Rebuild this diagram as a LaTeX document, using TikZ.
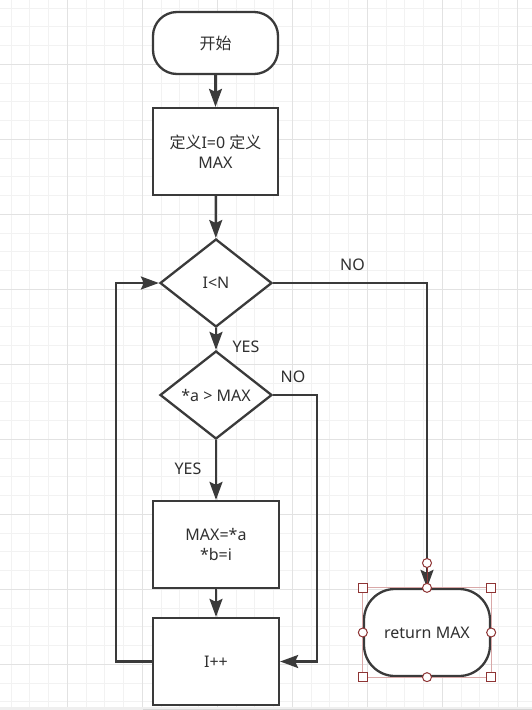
\documentclass[tikz,border=0pt]{standalone}
\usepackage{fontspec}
\setmainfont{Noto Sans}
\newfontfamily\cjk{Noto Sans CJK SC}
\usetikzlibrary{shapes.geometric,arrows.meta}
\definecolor{linec}{HTML}{3A3A3A}
\definecolor{textc}{HTML}{303030}
\definecolor{gridminor}{HTML}{F2F2F2}
\definecolor{gridmajor}{HTML}{E2E2E2}
\definecolor{handle}{HTML}{8E3434}
\definecolor{selbox}{HTML}{D9A8A8}
\definecolor{bandlight}{HTML}{EFEFEF}
\definecolor{banddark}{HTML}{D6D6D6}
\tikzset{
  every node/.style={font=\fontsize{16}{20}\selectfont, text=textc},
  box/.style={draw=linec, line width=2.3pt, fill=white, rectangle, minimum width=125pt, minimum height=87pt, align=center, inner sep=0pt},
  term/.style={box, rounded corners=26pt},
  dec/.style={draw=linec, line width=2.3pt, fill=white, diamond, minimum width=112pt, minimum height=88pt, inner sep=0pt, align=center},
  conn/.style={draw=linec, line width=2.3pt, -{Stealth[length=18pt,width=13pt,inset=3pt]}},
  lbl/.style={inner sep=0pt},
  hsq/.style={draw=handle, fill=white, line width=1pt, minimum size=9pt, inner sep=0pt, rectangle},
  hci/.style={draw=handle, fill=white, line width=1pt, minimum size=9pt, inner sep=0pt, circle},
}
\begin{document}
\begin{tikzpicture}[x=1pt,y=-1pt]
\useasboundingbox (0,0) rectangle (532,710);
\fill[white] (0,0) rectangle (532,710);
% grid
\foreach \k in {0,...,27} { \draw[gridminor, line width=1pt] ({11.1+18.75*\k},0) -- ({11.1+18.75*\k},707); }
\foreach \k in {0,...,37} { \draw[gridminor, line width=1pt] (0,{8.1+18.75*\k}) -- (532,{8.1+18.75*\k}); }
\foreach \k in {0,...,6} { \draw[gridmajor, line width=1pt] ({67.3+75*\k},0) -- ({67.3+75*\k},707); }
\foreach \k in {0,...,8} { \draw[gridmajor, line width=1pt] (0,{64.3+75*\k}) -- (532,{64.3+75*\k}); }
\fill[bandlight] (0,707) rectangle (532,710);
\fill[banddark] (143,708.5) rectangle (532,710);

% nodes
\node[term, minimum height=62pt, rounded corners=24pt] (start) at (215.5,43) {{\cjk 开始}};
\node[box] (def) at (215.5,151.5) {{\cjk 定义}I=0 {\cjk 定义}\\MAX};
\node[dec] (d1) at (216,283) {I<N};
\node[dec] (d2) at (216,395) {*a > MAX};
\node[box, minimum width=126pt] (set) at (216,544.5) {MAX=*a\\*b=i};
\node[box, minimum width=126pt] (inc) at (216,661.5) {I++};
\node[term, minimum width=126pt, rounded corners=31pt] (ret) at (427,632.5) {return MAX};

% connectors
\draw[conn] (start) -- (def);
\draw[conn] (def) -- (d1);
\draw[conn] (d1) -- (d2);
\draw[conn] (d2) -- (set);
\draw[conn] (set) -- (inc);
\coordinate (lp) at (116,661.5);
\draw[conn] (inc.west) -- (lp) |- (d1.west);
\draw[conn] (d1.east) -| (ret.north);
\coordinate (c2) at (317,661.5);
\draw[conn] (d2.east) -| (c2) -- (inc.east);

% labels
\node[lbl] (no1) at (352.5,264.5) {NO};
\node[lbl] (yes1) at (246,347) {YES};
\node[lbl] (no2) at (293,376.5) {NO};
\node[lbl] (yes2) at (188,469) {YES};

% selection handles
\draw[selbox, line width=0.8pt] (ret.north west) rectangle (ret.south east);
\coordinate (rh) at (427,563);
\draw[handle, line width=0.6pt] (rh) -- (ret.north);
\node[hci] (hr) at (rh) {};
\node[hsq] (h1) at (ret.north west) {};
\node[hsq] (h2) at (ret.north east) {};
\node[hsq] (h3) at (ret.south west) {};
\node[hsq] (h4) at (ret.south east) {};
\node[hci] (h5) at (ret.north) {};
\node[hci] (h6) at (ret.south) {};
\node[hci] (h7) at (ret.west) {};
\node[hci] (h8) at (ret.east) {};
\end{tikzpicture}
\end{document}
